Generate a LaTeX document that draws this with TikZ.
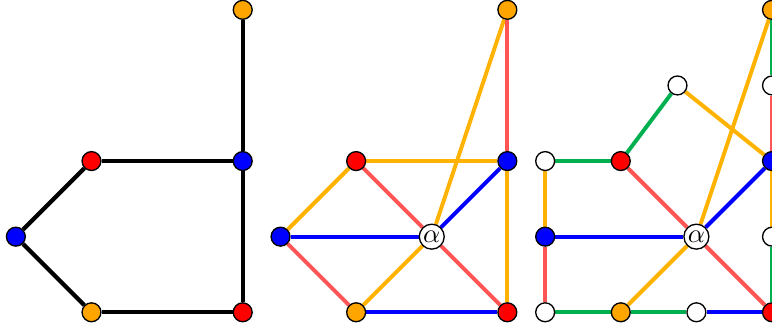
\documentclass[tikz,border=0pt]{standalone}
\usetikzlibrary{backgrounds}
\definecolor{ered}{RGB}{255,85,85}
\definecolor{eorange}{RGB}{255,178,0}
\definecolor{egreen}{RGB}{0,176,80}
\definecolor{eblue}{RGB}{0,0,255}
\definecolor{vorangec}{RGB}{255,165,0}
\tikzset{
  vtx/.style={circle,draw=black,line width=0.5pt,minimum size=0.25cm,inner sep=0pt},
  vr/.style={vtx,fill=red},
  vb/.style={vtx,fill=blue},
  vo/.style={vtx,fill=vorangec},
  vw/.style={vtx,fill=white},
  va/.style={circle,draw=black,line width=0.5pt,fill=white,minimum size=0.33cm,inner sep=0.5pt},
  ek/.style={line width=1.6pt,draw=black},
  er/.style={line width=1.5pt,draw=ered},
  eo/.style={line width=1.5pt,draw=eorange},
  eg/.style={line width=1.5pt,draw=egreen},
  eb/.style={line width=1.5pt,draw=eblue}
}
\begin{document}
\begin{tikzpicture}
\useasboundingbox (-0.21,-0.28) rectangle (10.0,4.13);
% Panel 1
\node[vb] (A1) at (0,1) {};
\node[vr] (B1) at (1,2) {};
\node[vb] (C1) at (3,2) {};
\node[vo] (D1) at (3,4) {};
\node[vo] (E1) at (1,0) {};
\node[vr] (F1) at (3,0) {};
\begin{scope}[on background layer]
\draw[ek] (A1) -- (B1);
\draw[ek] (B1) -- (C1);
\draw[ek] (C1) -- (D1);
\draw[ek] (C1) -- (F1);
\draw[ek] (A1) -- (E1);
\draw[ek] (E1) -- (F1);
\end{scope}
% Panel 2
\begin{scope}[xshift=3.5cm]
\node[vb] (A2) at (0,1) {};
\node[vr] (B2) at (1,2) {};
\node[vb] (C2) at (3,2) {};
\node[vo] (D2) at (3,4) {};
\node[vo] (E2) at (1,0) {};
\node[vr] (F2) at (3,0) {};
\node[va] (G2) at (2,1) {$\alpha$};
\end{scope}
\begin{scope}[on background layer]
\draw[eo] (A2) -- (B2);
\draw[er] (A2) -- (E2);
\draw[eb] (A2) -- (G2);
\draw[eo] (B2) -- (C2);
\draw[er] (B2) -- (G2);
\draw[eb] (G2) -- (C2);
\draw[eo] (G2) -- (D2);
\draw[eo] (G2) -- (E2);
\draw[er] (G2) -- (F2);
\draw[eb] (E2) -- (F2);
\draw[eo] (C2) -- (F2);
\draw[er] (C2) -- (D2);
\end{scope}
% Panel 3
\begin{scope}[xshift=7cm]
\node[vb] (A3) at (0,1) {};
\node[vr] (B3) at (1,2) {};
\node[vb] (C3) at (3,2) {};
\node[vo] (D3) at (3,4) {};
\node[vo] (E3) at (1,0) {};
\node[vr] (F3) at (3,0) {};
\node[va] (G3) at (2,1) {$\alpha$};
\node[vw] (W1) at (0,2) {};
\node[vw] (W2) at (1.75,3) {};
\node[vw] (W3) at (3,3) {};
\node[vw] (W4) at (3,1) {};
\node[vw] (W5) at (0,0) {};
\node[vw] (W6) at (2,0) {};
\end{scope}
\begin{scope}[on background layer]
\draw[eg] (W1) -- (B3);
\draw[eo] (W1) -- (A3);
\draw[er] (A3) -- (W5);
\draw[eg] (W5) -- (E3);
\draw[eg] (E3) -- (W6);
\draw[eb] (W6) -- (F3);
\draw[eb] (A3) -- (G3);
\draw[er] (B3) -- (G3);
\draw[eg] (B3) -- (W2);
\draw[eo] (W2) -- (C3);
\draw[eb] (G3) -- (C3);
\draw[eo] (G3) -- (D3);
\draw[eo] (G3) -- (E3);
\draw[er] (G3) -- (F3);
\draw[eg] (D3) -- (W3);
\draw[er] (W3) -- (C3);
\draw[eo] (C3) -- (W4);
\draw[eg] (W4) -- (F3);
\end{scope}
\end{tikzpicture}
\end{document}
